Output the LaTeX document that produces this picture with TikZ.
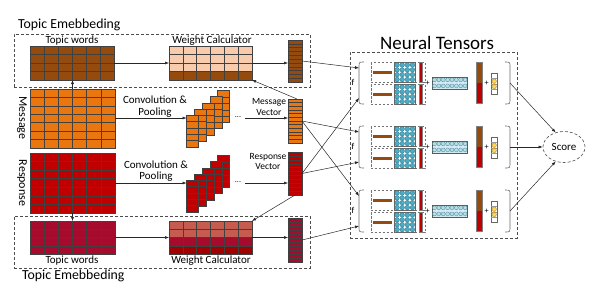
\documentclass[tikz,border=0pt]{standalone}
\usepackage{fontspec}
\setmainfont{Carlito}
\usetikzlibrary{shapes.geometric,arrows.meta,calc,fit}

\definecolor{tbrown}{HTML}{964B0E}
\definecolor{peach}{HTML}{F8CBAD}
\definecolor{morange}{HTML}{E9760F}
\definecolor{rred}{HTML}{C00000}
\definecolor{crim}{HTML}{A60A2C}
\definecolor{salmon}{HTML}{C65B4F}
\definecolor{dred}{HTML}{A00000}
\definecolor{cteal}{HTML}{4BACC6}
\definecolor{lblue}{HTML}{B7DEE8}
\definecolor{yel}{HTML}{FFD34D}

\tikzset{
  gl/.style={draw=black!75, line width=0.45pt},
  arr/.style={-{Latex[length=4pt,width=3pt]}, line width=0.5pt, draw=black!85},
  dbox/.style={draw=black!70, dash pattern=on 3pt off 2pt, line width=0.6pt},
  sdbox/.style={draw=black!55, dash pattern=on 2.5pt off 1.5pt, line width=0.5pt},
  brk/.style={draw=black!60, line width=0.6pt},
  lbl/.style={font=\fontsize{11}{11.5}\selectfont, inner sep=0, align=center},
  slbl/.style={font=\fontsize{9.5}{10.5}\selectfont, inner sep=0, align=center},
  big/.style={font=\fontsize{13.8}{15}\selectfont, inner sep=0},
}

\newcommand{\gridfill}[5]{\fill[#5] (#1,#2) rectangle (#3,#4);}
\newcommand{\gridlines}[7]{%
  \pgfmathsetmacro\gdx{(#4-#2)/#6}%
  \pgfmathsetmacro\gdy{(#5-#3)/#7}%
  \foreach \k in {1,...,#6}{\draw[gl] ({#2+\k*\gdx},#3) -- ({#2+\k*\gdx},#5);}%
  \foreach \k in {1,...,#7}{\draw[gl] (#2,{#3+\k*\gdy}) -- (#4,{#3+\k*\gdy});}%
  \node[fit={(#2,#3)(#4,#5)}, inner sep=0, outer sep=0, draw=black!75, line width=0.45pt] (#1) {};%
}
\newcommand{\cgrid}[8]{\gridfill{#2}{#3}{#4}{#5}{#8}\gridlines{#1}{#2}{#3}{#4}{#5}{#6}{#7}}

\newcommand{\tunit}[3]{%
  \begin{scope}[shift={(#2,#3)}]
    \draw[brk] (5,0) .. controls (0,0) .. (0,5) -- (0,37) .. controls (0,42) .. (5,42);
    \draw[brk] (146,0) .. controls (151,0) .. (151,5) -- (151,37) .. controls (151,42) .. (146,42);
    \node[font=\fontsize{9}{10}\selectfont, inner sep=0] (#1-f) at (-6,20) {f};
    \foreach \b in {0,22}{
      \draw[sdbox] (12,\b) rectangle (66,\b+20.5);
      \fill[tbrown] (14,\b+9) rectangle (33,\b+11.5);
      \draw[draw=black!60, fill=white, line width=0.4pt] (35.5,\b+0.5) rectangle (56,\b+20);
      \foreach \i in {0,...,3}{\foreach \j in {0,...,3}{
        \draw[fill=cteal, draw=cteal!60!black, line width=0.25pt] (35.5+2.5625+5.125*\i, \b+0.5+2.4375+4.875*\j) circle (2.35);
      }}
      \draw[fill=rred, draw=black!50, line width=0.3pt] (60,\b+0.5) rectangle (63.3,\b+20);
    }
    \node[font=\fontsize{8}{9}\selectfont, inner sep=0] at (68.5,21.3) {+};
    \draw[fill=lblue!60, draw=black!65, line width=0.4pt] (73.3,14.7) rectangle (108.3,27);
    \foreach \i in {0,...,7}{\foreach \j in {0,1}{
      \draw[fill=lblue, draw=cteal!70!black, line width=0.25pt] (73.3+2.1875+4.375*\i, 14.7+3.075+6.15*\j) circle (2.0);
    }}
    \fill[tbrown] (117,0) rectangle (123.3,20.7);
    \fill[rred] (117,20.7) rectangle (123.3,41.3);
    \draw[draw=black!50, line width=0.3pt] (117,0) rectangle (123.3,41.3);
    \node[font=\fontsize{8}{9}\selectfont, inner sep=0] at (127.5,21.3) {+};
    \draw[fill=white, draw=black!60, line width=0.4pt] (132,11.3) rectangle (138.3,32.3);
    \foreach \j in {1,2,3}{\draw[draw=black!40, line width=0.3pt] (132,11.3+5.25*\j) -- (138.3,11.3+5.25*\j);}
    \draw[fill=yel, draw=yel!60!black, line width=0.3pt] (135.15,19.2) circle (2.3);
    \draw[fill=yel, draw=yel!60!black, line width=0.3pt] (135.15,24.4) circle (2.3);
    \node[fit={(0,0)(151,42)}, inner sep=0, outer sep=0] (#1) {};
    \coordinate (#1-in1) at (0,6);
    \coordinate (#1-in2) at (0,36);
  \end{scope}%
}

\begin{document}
\begin{tikzpicture}[x=1pt,y=-1pt]
\useasboundingbox (0,0) rectangle (599,300);

% dashed frames
\node[dbox, fit={(14,34)(310,87)}, inner sep=0] (frame1) {};
\node[dbox, fit={(14,216)(310,268)}, inner sep=0] (frame2) {};
\node[dbox, fit={(350,52)(517,238)}, inner sep=0] (frame3) {};

\node[big, anchor=west] (te1) at (18,25) {Topic Emebbeding};
\node[big, anchor=west] (te2) at (22,276) {Topic Emebbeding};
\node[font=\fontsize{19}{20}\selectfont, inner sep=0] (nt) at (437,43) {Neural Tensors};

% top topic embedding
\cgrid{tw1}{30}{46}{114}{80}{6}{4}{tbrown}
\node[lbl] (twl1) at (72,40.5) {Topic words};
\gridfill{169}{46}{252}{80}{peach}
\gridfill{169}{71.5}{252}{80}{tbrown}
\gridlines{wc1}{169}{46}{252}{80}{6}{4}
\node[lbl] (wcl1) at (212,40.5) {Weight Calculator};
\cgrid{vt}{288}{40}{302}{82}{1}{11}{tbrown}

% message
\cgrid{msg}{30}{89}{115}{148}{6}{7}{morange}
\node[font=\fontsize{12}{13}\selectfont, inner sep=0, rotate=-90] (msgl) at (22,118) {Message};
\foreach \k in {4,3,2,1,0}{
  \pgfmathsetmacro\stx{186.5+7.8*\k}
  \pgfmathsetmacro\sty{115-6.1*\k}
  \pgfmathsetmacro\stxx{\stx+12}
  \pgfmathsetmacro\styy{\sty+32}
  \cgrid{sm\k}{\stx}{\sty}{\stxx}{\styy}{1}{5}{morange}
}
\node[lbl] (cp1) at (155,106.5) {Convolution \&\\Pooling};
\node[font=\fontsize{8}{9}\selectfont, inner sep=0] (d1) at (238,117) {...};
\cgrid{vm}{288}{99}{302}{143}{1}{12}{morange}
\node[slbl] (mvl) at (269,107) {Message\\Vector};

% response
\cgrid{resp}{30}{153}{115}{213}{6}{7}{rred}
\node[font=\fontsize{12}{13}\selectfont, inner sep=0, rotate=-90] (respl) at (22,183) {Response};
\foreach \k in {4,3,2,1,0}{
  \pgfmathsetmacro\stx{186.5+7.8*\k}
  \pgfmathsetmacro\sty{180-6.1*\k}
  \pgfmathsetmacro\stxx{\stx+12}
  \pgfmathsetmacro\styy{\sty+32}
  \cgrid{sr\k}{\stx}{\sty}{\stxx}{\styy}{1}{5}{rred}
}
\node[lbl] (cp2) at (156,171) {Convolution \&\\Pooling};
\node[font=\fontsize{8}{9}\selectfont, inner sep=0] (d2) at (238,182) {...};
\cgrid{vr}{288}{152}{302}{195}{1}{11}{rred}
\node[slbl] (rvl) at (268,161.5) {Response\\Vector};

% bottom topic embedding
\cgrid{tw2}{30}{221}{115}{254}{6}{4}{crim}
\node[lbl] (twl2) at (72,260.5) {Topic words};
\gridfill{169}{221}{252}{237.5}{salmon}
\gridfill{169}{237.5}{252}{245.75}{crim}
\gridfill{169}{245.75}{252}{254}{dred}
\gridlines{wc2}{169}{221}{252}{254}{6}{4}
\node[lbl] (wcl2) at (211,260.5) {Weight Calculator};
\cgrid{vb}{288}{218}{302}{262}{1}{11}{crim}

% arrows left part
\draw[arr] (msg.north) -- (msg.north |- tw1.south);
\draw[arr] (resp.south) -- (resp.south |- tw2.north);
\draw[arr] (tw1.east) -- (wc1.west);
\draw[arr] (wc1.east) -- (wc1.east -| vt.west);
\draw[arr] (tw2.east) -- (wc2.west);
\draw[arr] (wc2.east) -- (wc2.east -| vb.west);
\draw[arr] (msg.east |- 0,118) -- (sm0.west |- 0,118);
\draw[arr] (resp.east |- 0,183) -- (sr0.west |- 0,183);
\draw[arr] (d1.east |- 0,118) ++(4,0) -- (vm.west |- 0,118);
\draw[arr] (d2.east |- 0,183) ++(4,0) -- (vr.west |- 0,183);
\draw[arr] ([xshift=2pt]vm.north) -- (wc1.south east);
\draw[arr] (vr.south) -- (wc2.north east);

% neural tensor units
\tunit{u1}{359}{62}
\tunit{u2}{359}{126}
\tunit{u3}{359}{190}

\draw[arr] (vt.east) -- (u1-in1);
\draw[arr] (vm.east) -- (u2-in1);
\draw[arr] (vm.east) -- (u3-in1);
\draw[arr] (vr.east) -- (u1-in2);
\draw[arr] (vr.east) -- (u2-in2);
\draw[arr] (vb.east) -- (u3-in2);

% score
\node[ellipse, dbox, minimum width=42pt, minimum height=31pt, inner sep=0, font=\fontsize{11}{12}\selectfont] (score) at (564,147) {Score};
\draw[arr] (u1.east) -- (score.120);
\draw[arr] (u2.east) -- (score.west);
\draw[arr] (u3.east) -- (score.240);
\end{tikzpicture}
\end{document}
